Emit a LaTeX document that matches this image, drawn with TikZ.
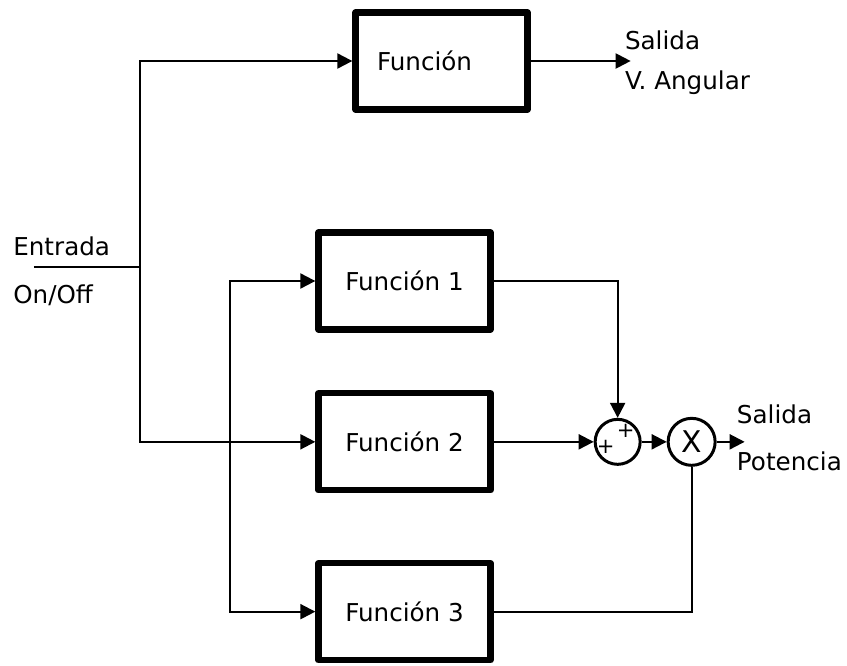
\documentclass[tikz,border=0pt]{standalone}
\usepackage{fontspec}
\setmainfont{DejaVu Sans}
\usepackage{tikz}
\usetikzlibrary{arrows.meta, positioning}
\tikzstyle{block} = [rectangle, minimum width=3.44cm, minimum height=1.94cm, text centered, draw=black, line width=3.6pt, line join=round]
\tikzstyle{junction} = [circle, draw=black, line width=1.7pt, inner sep=0pt]
\tikzstyle{sign} = [inner sep=0pt, font=\fontsize{12}{14}\selectfont]
\tikzstyle{tag} = [anchor=base west, inner sep=0pt]
\tikzstyle{wire} = [line width=1.2pt]
\tikzstyle{arrow} = [line width=1.2pt, -{Triangle[length=0.3cm, width=0.3cm]}]

\begin{document}
\begin{tikzpicture}[font=\fontsize{14}{17}\selectfont]
\useasboundingbox (0,0) rectangle (16.94,-13.3);

% Blocks
\node (func) [block] at (8.83,-1.22) {\hspace*{-0.68cm}Función};

\node (f1) [block] at (8.09,-5.62) {Función 1};

\node (f2) [block, below=1.15cm of f1] {Función 2};

\node (f3) [block, below=1.33cm of f2] {Función 3};

% Junctions
\node (sum) [junction, minimum size=0.9cm, right=2cm of f2] {};
\node (plusa) [sign] at ([shift={(-0.24,-0.1)}]sum.center) {+};
\node (plusb) [sign] at ([shift={(0.16,0.22)}]sum.center) {+};

\node (mult) [junction, minimum size=0.94cm, right=0.5cm of sum, font=\fontsize{17}{20}\selectfont] {X};

% Input and outputs
\coordinate (in) at (0.68,-5.34);
\coordinate (split) at (2.8,-5.34);
\coordinate (branch) at ([xshift=-1.7cm]f2.west);
\coordinate (outa) at ([xshift=2cm]func.east);
\coordinate (outp) at ([xshift=0.56cm]mult.east);

\node (entrada) [tag] at ([shift={(-0.42cm,0.24cm)}]in) {Entrada};
\node (onoff) [tag] at ([shift={(-0.42cm,-0.72cm)}]in) {On/Off};
\node (salidaa) [tag] at ([shift={(-0.12cm,0.24cm)}]outa) {Salida};
\node (angular) [tag] at ([shift={(-0.12cm,-0.56cm)}]outa) {V. Angular};
\node (salidap) [tag] at ([shift={(-0.16cm,0.36cm)}]outp) {Salida};
\node (potencia) [tag] at ([shift={(-0.16cm,-0.58cm)}]outp) {Potencia};

% Arrows
\draw [wire] (in) -- (split);
\draw [arrow] (split) |- (func.west);
\draw [arrow] (split) |- (f2.west);
\draw [arrow] (branch) |- (f1.west);
\draw [arrow] (branch) |- (f3.west);
\draw [arrow] (func.east) -- (outa);
\draw [arrow] (f1.east) -| (sum.north);
\draw [arrow] (f2.east) -- (sum.west);
\draw [arrow] (sum.east) -- (mult.west);
\draw [wire] (f3.east) -| (mult.south);
\draw [arrow] (mult.east) -- (outp);

\end{tikzpicture}
\end{document}
